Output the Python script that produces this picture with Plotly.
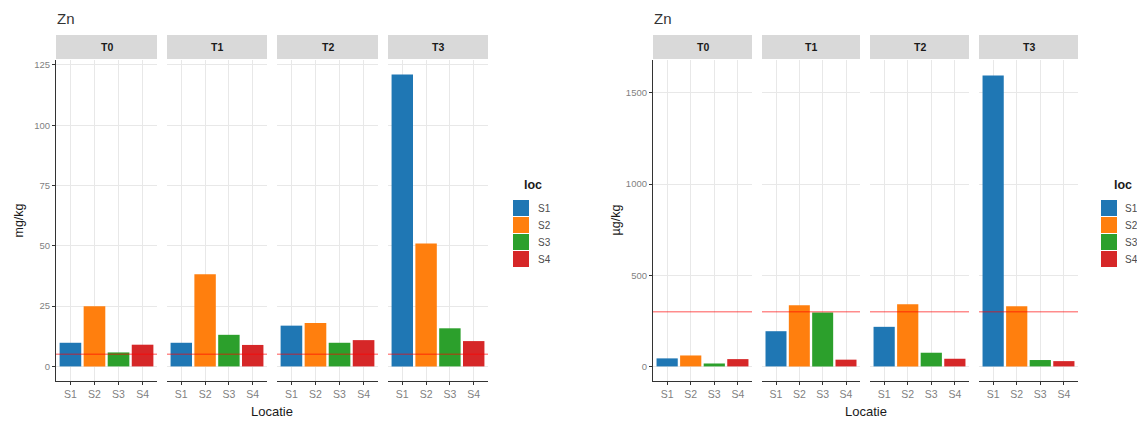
import plotly.graph_objects as go

W, H = 1137, 421

locs = ["S1", "S2", "S3", "S4"]
times = ["T0", "T1", "T2", "T3"]
colors = ["#1F77B4", "#FF7F0E", "#2CA02C", "#D62728"]

# Left chart: Zn in mg/kg
mg_T0 = [9.8, 24.9, 5.8, 9.0]
mg_T1 = [9.8, 38.2, 13.1, 8.9]
mg_T2 = [16.9, 18.0, 9.8, 10.9]
mg_T3 = [121.0, 51.0, 15.8, 10.5]
mg_limit = 5

# Right chart: Zn in µg/kg
ug_T0 = [44, 60, 16, 40]
ug_T1 = [193, 336, 295, 37]
ug_T2 = [217, 341, 75, 42]
ug_T3 = [1595, 330, 35, 29]
ug_limit = 300

figs = [
    dict(vals=[mg_T0, mg_T1, mg_T2, mg_T3], limit=mg_limit, yr=[-6.05, 127.05],
         dtick=25, panels=[(56, 157), (167, 267), (277, 378), (388, 488)],
         ytitle="mg/kg", ytx=18, title_x=55, leg_key=513, leg_title=522, leg_lab=536),
    dict(vals=[ug_T0, ug_T1, ug_T2, ug_T3], limit=ug_limit, yr=[-80, 1680],
         dtick=500, panels=[(653, 752), (762, 860), (870, 969), (979, 1078)],
         ytitle="µg/kg", ytx=615, title_x=652, leg_key=1101, leg_title=1112, leg_lab=1123),
]

PT, PB = 60, 381

def px(x):
    return x / W

def py(y):
    return 1 - y / H

fig = go.Figure()
layout = dict(width=W, height=H, margin=dict(l=0, r=0, t=0, b=0),
              paper_bgcolor="white", plot_bgcolor="white", showlegend=False,
              font=dict(family="Liberation Sans, Arial, sans-serif", color="#333"),
              bargap=0.1)
shapes, annotations = [], []

def ann(text, x, y, size, color, xanchor="center", angle=0):
    annotations.append(dict(text=text, xref="paper", yref="paper", x=px(x), y=py(y),
                            xanchor=xanchor, yanchor="middle", showarrow=False,
                            textangle=angle, font=dict(size=size, color=color)))

for f, spec in enumerate(figs):
    for p, (x0, x1) in enumerate(spec["panels"]):
        n = f * 4 + p + 1
        xs = "x" if n == 1 else f"x{n}"
        ys = "y" if n == 1 else f"y{n}"
        fig.add_trace(go.Bar(x=locs, y=spec["vals"][p], marker=dict(color=colors, line=dict(width=0)),
                             width=0.9, xaxis=xs, yaxis=ys, showlegend=False))
        layout["xaxis" if n == 1 else f"xaxis{n}"] = dict(
            domain=[px(x0), px(x1)], anchor=ys, type="category", range=[-0.6, 3.6],
            showgrid=True, gridcolor="#E8E8E8", gridwidth=1,
            showline=True, linecolor="#333", linewidth=1.2,
            ticks="outside", ticklen=3, tickcolor="#333",
            tickfont=dict(size=10.5, color="#7F7F7F"), fixedrange=True)
        ya = dict(domain=[py(PB), py(PT)], anchor=xs, range=spec["yr"], dtick=spec["dtick"],
                  tick0=0, showgrid=True, gridcolor="#E8E8E8", gridwidth=1, zeroline=False,
                  fixedrange=True)
        if p == 0:
            ya.update(showline=True, linecolor="#333", linewidth=1.2, ticks="outside",
                      ticklen=3, tickcolor="#333", tickfont=dict(size=9.5, color="#7F7F7F"))
        else:
            ya.update(showline=False, showticklabels=False, ticks="")
        layout["yaxis" if n == 1 else f"yaxis{n}"] = ya
        # strip
        shapes.append(dict(type="rect", xref="paper", yref="paper", x0=px(x0), x1=px(x1),
                           y0=py(59), y1=py(35), fillcolor="#D9D9D9", line=dict(width=0),
                           layer="below"))
        ann(f"<b>{times[p]}</b>", (x0 + x1) / 2, 47, 10.5, "#1A1A1A")
        # threshold line
        shapes.append(dict(type="line", xref=f"{xs} domain", yref=ys, x0=0, x1=1,
                           y0=spec["limit"], y1=spec["limit"],
                           line=dict(color="rgba(255,0,0,0.45)", width=1.5), layer="above"))
    gx0 = spec["panels"][0][0]
    gx1 = spec["panels"][-1][1]
    ann("Zn", spec["title_x"], 18, 15, "#333", xanchor="left")
    ann("Locatie", (gx0 + gx1) / 2, 411, 13, "#1A1A1A")
    ann(spec["ytitle"], spec["ytx"], (PT + PB) / 2, 12.5, "#1A1A1A", angle=-90)
    # legend
    ann("<b>loc</b>", spec["leg_title"], 185, 12.5, "#1A1A1A", xanchor="left")
    for i, (lab, col) in enumerate(zip(locs, colors)):
        ky0 = 200 + i * 17
        shapes.append(dict(type="rect", xref="paper", yref="paper", x0=px(spec["leg_key"]),
                           x1=px(spec["leg_key"] + 16), y0=py(ky0 + 16), y1=py(ky0),
                           fillcolor=col, line=dict(width=0)))
        ann(lab, spec["leg_lab"], ky0 + 8, 10, "#4D4D4D", xanchor="left")

layout["shapes"] = shapes
layout["annotations"] = annotations
fig.update_layout(**layout)
fig.write_html("out.html", config={"displayModeBar": False},
               post_script="document.body.style.margin='0';document.body.style.overflow='hidden';")
